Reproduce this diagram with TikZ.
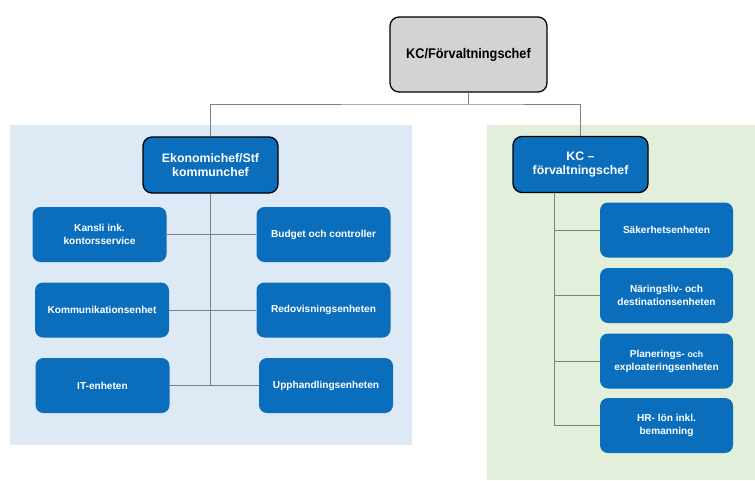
\documentclass[tikz,border=0pt]{standalone}
\usepackage{fontspec}
\setmainfont{Liberation Sans}
\newfontfamily\narrowf[FakeStretch=0.91]{Liberation Sans}
\definecolor{boxblue}{HTML}{0A6EBD}
\definecolor{panelblue}{HTML}{DDE9F5}
\definecolor{panelgreen}{HTML}{E2EFDA}
\definecolor{topgray}{HTML}{D3D3D3}
\definecolor{linegray}{HTML}{808080}
\begin{document}
\begin{tikzpicture}[x=1pt,y=-1pt,
  headbox/.style={draw=black, line width=1.3pt, rounded corners=9pt, align=center,
    inner sep=0pt},
  topbox/.style={headbox, fill=topgray, text=black, minimum width=157pt, minimum height=75pt,
    font=\narrowf\bfseries\fontsize{14}{16}\selectfont},
  midbox/.style={headbox, fill=boxblue, text=white, minimum width=135pt, minimum height=56pt,
    font=\bfseries\fontsize{12.3}{14.5}\selectfont},
  unitbox/.style={fill=boxblue, text=white, rounded corners=8pt, align=center, inner sep=0pt,
    minimum width=134pt, minimum height=55pt, font=\bfseries\fontsize{10.1}{13}\selectfont},
  conn/.style={draw=linegray, line width=0.9pt}]
\useasboundingbox (0,0) rectangle (755,480);
% panels
\fill[panelblue] (10,125) rectangle (412,445);
\fill[panelgreen] (487,125) rectangle (755,480);
% nodes
\node[topbox] (top) at (468.5,54.5) {KC/Förvaltningschef};
\node[midbox] (eko) at (210.5,165) {Ekonomichef/Stf\\kommunchef};
\node[midbox] (kc) at (580.5,164.5) {KC –\\förvaltningschef};
\node[unitbox] (kansli) at (99.5,234.5) {Kansli ink.\\kontorsservice};
\node[unitbox] (budget) at (323.5,234.5) {Budget och controller};
\node[unitbox] (komm) at (102,310) {Kommunikationsenhet};
\node[unitbox] (redov) at (323.5,310) {Redovisningsenheten};
\node[unitbox] (it) at (102.5,385.5) {IT-enheten};
\node[unitbox] (upph) at (326,385.5) {Upphandlingsenheten};
\node[unitbox, minimum width=133pt] (sak) at (666.5,230) {Säkerhetsenheten};
\node[unitbox, minimum width=133pt] (nar) at (666.5,295.5) {Näringsliv- och\\destinationsenheten};
\node[unitbox, minimum width=133pt] (plan) at (666.5,361) {Planerings- {\fontsize{8.8}{13}\selectfont och}\\exploateringsenheten};
\node[unitbox, minimum width=133pt] (hr) at (666.5,425.5) {HR- lön inkl.\\bemanning};
% top connectors
\coordinate (j) at (top.south |- 0,104);
\draw[conn] (top.south) -- (j);
\draw[conn] (eko.north) |- (j) -| (kc.north);
% left tree
\draw[conn] (eko.south) -- (eko.south |- it.east);
\draw[conn] (kansli.east) -- (budget.west);
\draw[conn] (komm.east) -- (redov.west);
\draw[conn] (it.east) -- (upph.west);
% right tree
\coordinate (rt) at ([xshift=-26.5pt]kc.south);
\draw[conn] (rt) -- (rt |- hr.west) -- (hr.west);
\draw[conn] (rt |- sak.west) -- (sak.west);
\draw[conn] (rt |- nar.west) -- (nar.west);
\draw[conn] (rt |- plan.west) -- (plan.west);
\end{tikzpicture}
\end{document}
